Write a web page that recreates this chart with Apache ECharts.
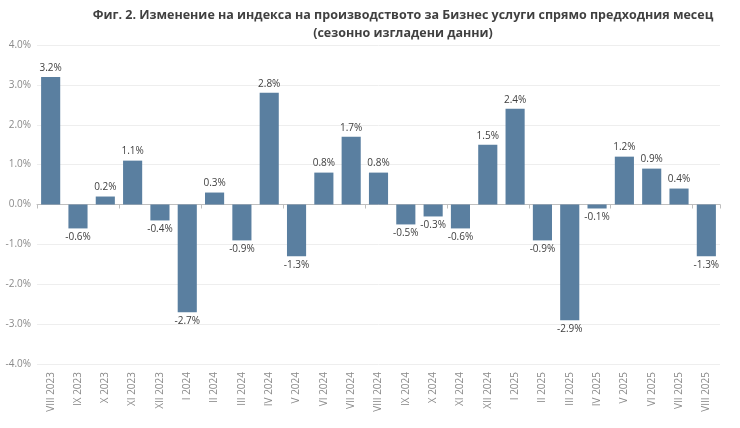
<!DOCTYPE html>
<html>
<head>
<meta charset="utf-8">
<script src="https://cdn.jsdelivr.net/npm/echarts@6/dist/echarts.min.js"></script>
<style>
  html, body { margin: 0; padding: 0; background: #fff; }
  #chart { width: 740px; height: 428px; }
</style>
</head>
<body>
<div id="chart"></div>
<script>
const months = [
  'VIII 2023', 'IX 2023', 'X 2023', 'XI 2023', 'XII 2023',
  'I 2024', 'II 2024', 'III 2024', 'IV 2024', 'V 2024', 'VI 2024', 'VII 2024',
  'VIII 2024', 'IX 2024', 'X 2024', 'XI 2024', 'XII 2024',
  'I 2025', 'II 2025', 'III 2025', 'IV 2025', 'V 2025', 'VI 2025', 'VII 2025', 'VIII 2025'
]
const changes = [
  3.2, -0.6, 0.2, 1.1, -0.4,
  -2.7, 0.3, -0.9, 2.8, -1.3, 0.8, 1.7,
  0.8, -0.5, -0.3, -0.6, 1.5,
  2.4, -0.9, -2.9, -0.1, 1.2, 0.9, 0.4, -1.3
]
const titleLines = [
  'Фиг. 2. Изменение на индекса на производството за Бизнес услуги спрямо предходния месец',
  '(сезонно изгладени данни)'
]

const fontFamily = '"Open Sans", "Noto Sans", sans-serif'
const chart = echarts.init(document.getElementById('chart'))

chart.setOption({
  animation: false,
  textStyle: { fontFamily },
  title: {
    text: titleLines.join('\n'),
    left: 398,
    top: 1,
    textAlign: 'center',
    textStyle: {
      fontFamily,
      fontSize: 12.5,
      fontWeight: 'bold',
      color: '#404040',
      lineHeight: 18
    }
  },
  grid: {
    left: 37,
    right: 20,
    top: 45,
    bottom: 64,
    containLabel: false
  },
  xAxis: [
    {
      type: 'category',
      data: months,
      axisLine: { onZero: true, lineStyle: { color: '#bfbfbf' } },
      axisTick: { show: true, length: 4, lineStyle: { color: '#bfbfbf' } },
      axisLabel: { show: false }
    },
    {
      type: 'category',
      data: months,
      position: 'bottom',
      axisLine: { show: false, onZero: false },
      axisTick: { show: false },
      axisLabel: {
        rotate: 90,
        interval: 0,
        color: '#8a8a8a',
        fontSize: 10,
        margin: 8
      }
    }
  ],
  yAxis: {
    type: 'value',
    min: -4,
    max: 4,
    interval: 1,
    axisLine: { show: false },
    axisTick: { show: false },
    splitLine: { lineStyle: { color: '#eeeeee' } },
    axisLabel: {
      color: '#8a8a8a',
      fontSize: 10,
      margin: 6,
      formatter: (v) => v.toFixed(1) + '%'
    }
  },
  series: [
    {
      type: 'bar',
      data: changes,
      xAxisIndex: 0,
      barWidth: '70%',
      itemStyle: { color: '#5a7fa0' },
      label: {
        show: true,
        position: 'outside',
        color: '#404040',
        fontSize: 10,
        distance: 4,
        formatter: (p) => p.value.toFixed(1) + '%'
      }
    }
  ]
})
</script>
</body>
</html>
